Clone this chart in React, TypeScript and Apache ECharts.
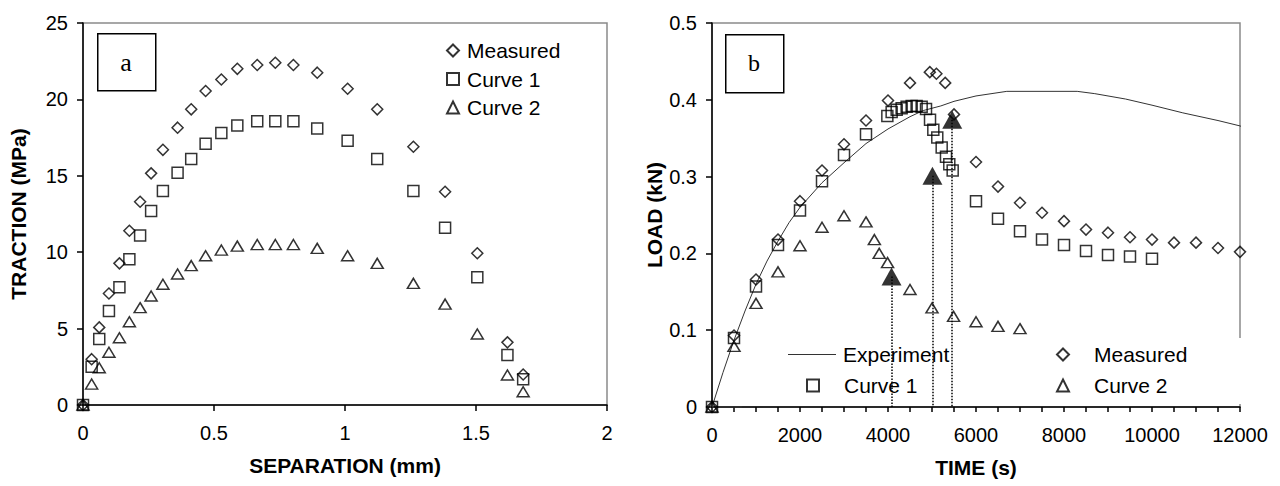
import React, { useEffect, useRef } from "react";
import * as echarts from "echarts";

// ---------- Panel a : traction vs separation ----------
const sepA = [0, 0.033, 0.062, 0.099, 0.139, 0.177, 0.218, 0.26, 0.305, 0.361, 0.413, 0.468, 0.528, 0.589, 0.665, 0.734, 0.803, 0.894, 1.01, 1.123, 1.261, 1.382, 1.505, 1.62, 1.68];
const measuredA = [0, 3.0, 5.08, 7.3, 9.27, 11.4, 13.3, 15.16, 16.7, 18.15, 19.35, 20.55, 21.3, 22.0, 22.25, 22.4, 22.25, 21.75, 20.7, 19.35, 16.9, 13.96, 9.93, 4.1, 2.0];
const curve1A = [0, 2.5, 4.32, 6.15, 7.7, 9.54, 11.1, 12.7, 14.0, 15.2, 16.1, 17.1, 17.8, 18.3, 18.57, 18.57, 18.57, 18.1, 17.3, 16.1, 14.0, 11.6, 8.36, 3.27, 1.68];
const curve2A = [0, 1.37, 2.44, 3.45, 4.4, 5.45, 6.37, 7.13, 7.9, 8.57, 9.12, 9.77, 10.14, 10.4, 10.5, 10.5, 10.5, 10.25, 9.77, 9.27, 7.96, 6.6, 4.65, 1.96, 0.87];

// ---------- Panel b : load vs time ----------
const expTime = [0, 250, 500, 750, 1000, 1250, 1500, 1750, 2000, 2500, 3000, 3500, 4000, 4500, 4800, 5200, 5500, 6000, 6700, 8300, 8700, 9400, 10000, 10700, 11500, 12000, 12180];
const expLoad = [0, 0.045, 0.087, 0.125, 0.16, 0.19, 0.216, 0.24, 0.26, 0.292, 0.318, 0.343, 0.362, 0.378, 0.386, 0.392, 0.398, 0.405, 0.411, 0.411, 0.408, 0.401, 0.393, 0.383, 0.373, 0.366, 0.362];
const expBaseTime = [0, 680];
const expBaseLoad = [0, 0];

const measTimeB = [0, 500, 1000, 1500, 2000, 2500, 3000, 3500, 4000, 4500, 4950, 5100, 5300, 5500, 6000, 6500, 7000, 7500, 8000, 8500, 9000, 9500, 10000, 10500, 11000, 11500, 12000];
const measLoadB = [0, 0.093, 0.166, 0.218, 0.268, 0.308, 0.342, 0.373, 0.399, 0.422, 0.436, 0.434, 0.422, 0.381, 0.319, 0.287, 0.266, 0.253, 0.242, 0.231, 0.227, 0.221, 0.218, 0.214, 0.214, 0.207, 0.202];

const c1TimeB = [0, 500, 1000, 1500, 2000, 2500, 3000, 3500, 3985, 4083, 4197, 4310, 4424, 4538, 4650, 4765, 4864, 4955, 5030, 5120, 5220, 5318, 5393, 5470, 6000, 6500, 7000, 7500, 8000, 8500, 9000, 9500, 10000];
const c1LoadB = [0, 0.09, 0.157, 0.211, 0.256, 0.294, 0.328, 0.355, 0.379, 0.384, 0.387, 0.389, 0.391, 0.392, 0.392, 0.391, 0.388, 0.374, 0.361, 0.351, 0.338, 0.326, 0.316, 0.308, 0.268, 0.245, 0.229, 0.218, 0.211, 0.203, 0.198, 0.196, 0.193];

const c2TimeB = [0, 500, 1000, 1500, 2000, 2500, 3000, 3500, 3690, 3800, 3990, 4500, 5000, 5490, 6000, 6500, 7000];
const c2LoadB = [0, 0.079, 0.135, 0.176, 0.21, 0.234, 0.249, 0.241, 0.218, 0.2, 0.188, 0.153, 0.129, 0.118, 0.111, 0.105, 0.102];

const failTime = [4080, 5010, 5460];
const failLoad = [0.17, 0.301, 0.374];

const FONT = "'Liberation Sans', Arial, sans-serif";
const zip = (xs: number[], ys: number[]) => xs.map((x, i) => [x, ys[i]]);

const hollow = { color: "rgba(255,255,255,0)", borderColor: "#000", borderWidth: 1.5 };

function axisBase(extra: any) {
  return {
    type: "value",
    nameLocation: "middle",
    axisLine: { show: true, onZero: false, lineStyle: { color: "#000", width: 1.5 } },
    axisTick: { show: true, inside: false, length: 6, lineStyle: { color: "#000", width: 1.5 } },
    axisLabel: { color: "#000", fontFamily: FONT, fontSize: 20 },
    splitLine: { show: false },
    nameTextStyle: { fontFamily: FONT, fontSize: 21, fontWeight: "bold", color: "#000" },
    ...extra,
  };
}

export default function App() {
  const ref = useRef<HTMLDivElement>(null);
  useEffect(() => {
    document.body.style.margin = "0";
    if (!ref.current) return;
    const chart = echarts.init(ref.current, undefined, { renderer: "svg" });
    const legendText = { fontFamily: FONT, fontSize: 21, color: "#000" };
    const padText = { ...legendText, padding: [0, 0, 0, 20] };
    const lg = (extra: any) => ({ orient: "vertical", padding: 0, itemHeight: 12, itemWidth: 12, selectedMode: false, textStyle: padText, ...extra });
    chart.setOption({
      animation: false,
      backgroundColor: "#fff",
      grid: [
        { left: 83, top: 23, width: 524, height: 382, show: true, borderColor: "#8a8a8a", borderWidth: 1.5, backgroundColor: "transparent" },
        { left: 712, top: 23, width: 528, height: 384, show: true, borderColor: "#8a8a8a", borderWidth: 1.5, backgroundColor: "transparent" },
      ],
      xAxis: [
        axisBase({ gridIndex: 0, min: 0, max: 2, interval: 0.5, name: "SEPARATION (mm)", nameGap: 50, axisLabel: { color: "#000", fontFamily: FONT, fontSize: 20, margin: 18 } }),
        axisBase({
          gridIndex: 1, min: 0, max: 12000, interval: 2000, name: "TIME (s)", nameGap: 50,
          axisLabel: { color: "#000", fontFamily: FONT, fontSize: 20, margin: 18, formatter: (v: number) => String(v) },
          axisTick: { show: true, length: 5, lineStyle: { color: "#000", width: 1.5 } },
          minorTick: { show: true, splitNumber: 4, length: 5, lineStyle: { color: "#000", width: 1.5 } },
        }),
      ],
      yAxis: [
        axisBase({ gridIndex: 0, min: 0, max: 25, interval: 5, name: "TRACTION (MPa)", nameGap: 54, axisLabel: { color: "#000", fontFamily: FONT, fontSize: 20, margin: 15 } }),
        axisBase({ gridIndex: 1, min: 0, max: 0.5, interval: 0.1, name: "LOAD (kN)", nameGap: 47, axisLabel: { color: "#000", fontFamily: FONT, fontSize: 20, margin: 15 } }),
      ],
      legend: [
        lg({ left: 446, top: 40, itemGap: 7.5, textStyle: { ...legendText, padding: [0, 0, 0, 3] }, data: ["Measured", "Curve 1", "Curve 2"] }),
        lg({ left: 788, top: 344, itemWidth: 48, itemHeight: 1.2, textStyle: { ...legendText, padding: [0, 0, 0, 2] }, data: [{ name: "Experiment", icon: "rect" }] }),
        lg({ left: 806, top: 375, data: ["Curve 1"] }),
        lg({ left: 1056, top: 344, data: ["Measured"] }),
        lg({ left: 1056, top: 375, data: ["Curve 2"] }),
      ],
      graphic: [
        { type: "rect", left: 97, top: 33, shape: { width: 58, height: 57 }, style: { fill: "#fff", stroke: "#000", lineWidth: 1.5 }, z: 5 },
        { type: "text", x: 126, y: 62, style: { text: "a", fontFamily: "'Liberation Serif', 'Times New Roman', serif", fontSize: 26, fill: "#000", align: "center", verticalAlign: "middle" }, z: 6 },
        { type: "rect", left: 725, top: 34, shape: { width: 58, height: 58 }, style: { fill: "#fff", stroke: "#000", lineWidth: 1.5 }, z: 5 },
        { type: "text", x: 754, y: 63, style: { text: "b", fontFamily: "'Liberation Serif', 'Times New Roman', serif", fontSize: 24, fill: "#000", align: "center", verticalAlign: "middle" }, z: 6 },
        { type: "rect", left: 1232, top: 338, shape: { width: 16, height: 66 }, style: { fill: "#fff" }, z: 4 },
      ],
      series: [
        // panel a
        { name: "Measured", type: "scatter", xAxisIndex: 0, yAxisIndex: 0, symbol: "diamond", symbolSize: 11, itemStyle: hollow, data: zip(sepA, measuredA), z: 3 },
        { name: "Curve 1", type: "scatter", xAxisIndex: 0, yAxisIndex: 0, symbol: "rect", symbolSize: 11, itemStyle: hollow, data: zip(sepA, curve1A), z: 3 },
        { name: "Curve 2", type: "scatter", xAxisIndex: 0, yAxisIndex: 0, symbol: "triangle", symbolSize: [12, 10], itemStyle: hollow, data: zip(sepA, curve2A), z: 3 },
        // panel b
        { name: "Experiment", type: "line", xAxisIndex: 1, yAxisIndex: 1, symbol: "none", clip: false, lineStyle: { color: "#333", width: 1 }, itemStyle: { color: "#333" }, data: zip(expTime, expLoad), z: 2 },
        { name: "expBase", type: "line", xAxisIndex: 1, yAxisIndex: 1, symbol: "none", lineStyle: { color: "#333", width: 1.5 }, data: zip(expBaseTime, expBaseLoad), z: 2, silent: true },
        {
          name: "failLines", type: "lines", coordinateSystem: "cartesian2d", xAxisIndex: 1, yAxisIndex: 1,
          lineStyle: { color: "#000", width: 1.5, type: "dotted", opacity: 1 },
          data: failTime.map((t, i) => ({ coords: [[t, failLoad[i]], [t, 0]] })), z: 2, silent: true,
        },
        { name: "Measured", type: "scatter", xAxisIndex: 1, yAxisIndex: 1, symbol: "diamond", symbolSize: 11, itemStyle: hollow, data: zip(measTimeB, measLoadB), z: 3 },
        { name: "Curve 1", type: "scatter", xAxisIndex: 1, yAxisIndex: 1, symbol: "rect", symbolSize: 11, itemStyle: hollow, data: zip(c1TimeB, c1LoadB), z: 3 },
        { name: "Curve 2", type: "scatter", xAxisIndex: 1, yAxisIndex: 1, symbol: "triangle", symbolSize: [12, 10], itemStyle: hollow, data: zip(c2TimeB, c2LoadB), z: 3 },
        { name: "Failure", type: "scatter", xAxisIndex: 1, yAxisIndex: 1, symbol: "triangle", symbolSize: [20, 18], itemStyle: { color: "#000" }, data: zip(failTime, failLoad), z: 4 },
      ],
    });
    return () => chart.dispose();
  }, []);
  return <div ref={ref} style={{ width: 1280, height: 486 }} />;
}
